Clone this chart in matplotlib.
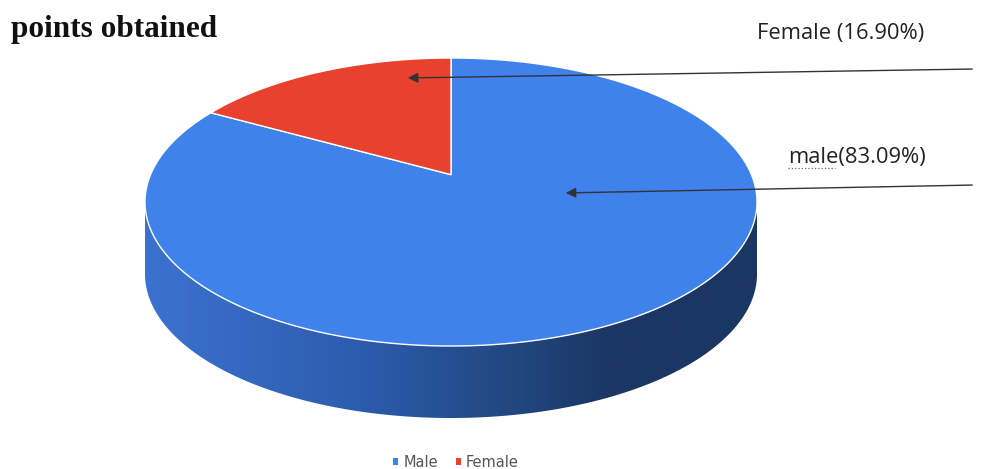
import numpy as np
import matplotlib.pyplot as plt
from matplotlib.colors import LinearSegmentedColormap
from matplotlib.patches import Polygon, Patch

labels = ['Male', 'Female']
values = [83.09, 16.90]
colors = ['#3f82ec', '#e8412f']
callouts = ['male(83.09%)', 'Female (16.90%)']

W, H = 984, 469
DEPTH = 0.5   # wall height in units of the vertical radius
TILT = 0.19   # perspective: pie centre seen above the ellipse centre


def tilt(x, y, a=TILT):
    # projective map that keeps the unit circle and moves (0,0) to (0,a)
    d = 1 + a * y
    return x * np.sqrt(1 - a * a) / d, (y + a) / d


fig = plt.figure(figsize=(W / 100, H / 100), dpi=100)

# pie axes: ellipse spans x 145..757 px, y 58..418 px (incl. wall)
ax = fig.add_axes([145 / W, (H - 418) / H, 612 / W, 360 / H])
wedges, _ = ax.pie(values, colors=colors, startangle=90, counterclock=False,
                   radius=1, center=(0, 0))
ax.set_aspect('auto')
ax.axis('off')

# redraw each wedge with the perspective tilt
for w, c in zip(wedges, colors):
    phi = np.radians(np.linspace(w.theta1, w.theta2, 300))
    xs = np.concatenate([[w.center[0]], w.r * np.cos(phi)])
    ys = np.concatenate([[w.center[1]], w.r * np.sin(phi)])
    tx, ty = tilt(xs, ys)
    ax.add_patch(Polygon(np.column_stack([tx, ty]), closed=True,
                         facecolor=c, edgecolor='white', lw=1.0, zorder=3))
    w.set_visible(False)

# side wall of the front half (all of it belongs to the male slice)
theta = np.linspace(np.pi, 2 * np.pi, 300)
top = np.column_stack([np.cos(theta), np.sin(theta)])
bot = np.column_stack([np.cos(theta[::-1]), np.sin(theta[::-1]) - DEPTH])
wall = Polygon(np.vstack([top, bot]), closed=True, facecolor='none',
               edgecolor='none', transform=ax.transData)
ax.add_patch(wall)
wall_cmap = LinearSegmentedColormap.from_list(
    'wall', [(0.0, '#3c72cf'), (0.35, '#2c5cae'), (0.6, '#22477f'),
             (0.75, '#1b3766'), (1.0, '#1b3663')])
grad = np.linspace(0, 1, 400).reshape(1, -1)
img = ax.imshow(grad, cmap=wall_cmap, aspect='auto',
                extent=(-1, 1, -1 - DEPTH, 0), zorder=1)
img.set_clip_path(wall)
ax.set_xlim(-1, 1)
ax.set_ylim(-1 - DEPTH, 1)

# overlay in pixel coordinates for texts and arrows
ov = fig.add_axes([0, 0, 1, 1], facecolor='none')
ov.set_xlim(0, W)
ov.set_ylim(H, 0)
ov.axis('off')

ov.text(11, 29, 'points obtained', fontsize=22.5, fontweight='bold',
        family='Liberation Serif', va='center', ha='left', color='#111111')

ov.text(757, 33, callouts[1], fontsize=15.8, family='Open Sans',
        va='center', ha='left', color='#222222')
ov.text(788, 158, callouts[0], fontsize=15.8, family='Open Sans',
        va='center', ha='left', color='#222222')
ov.plot([788, 835], [168, 168], ':', color='#666666', lw=0.9)

arrow = dict(arrowstyle='-|>', color='#333333', lw=1.0, mutation_scale=15)
ov.annotate('', xy=(405, 78), xytext=(975, 69), arrowprops=arrow)
ov.annotate('', xy=(563, 193), xytext=(975, 185), arrowprops=arrow)

handles = [Patch(facecolor=c, edgecolor='none') for c in colors]
fig.legend(handles, labels, loc='center', bbox_to_anchor=(456 / W, 1 - 462 / H),
           ncol=2, frameon=False, fontsize=10.5, handlelength=0.35,
           handleheight=0.35, handletextpad=0.35, columnspacing=1.2,
           labelcolor='#555555')

fig.savefig('out.png', dpi=100)
